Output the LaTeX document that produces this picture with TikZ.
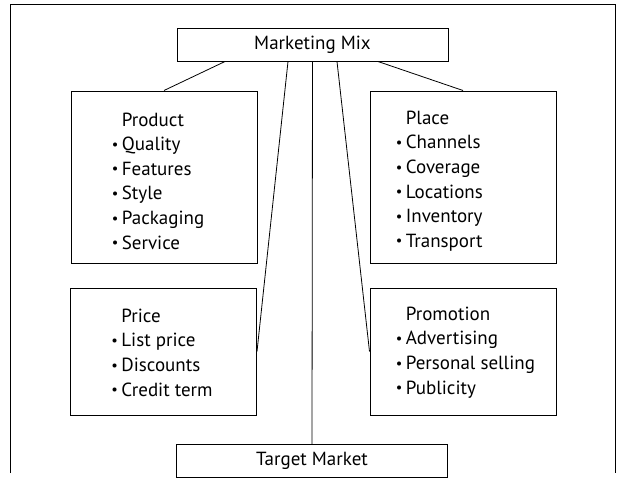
\documentclass[tikz,border=0pt]{standalone}
\usepackage{fontspec}
\setmainfont{PT Sans}

\newcommand{\itembul}{\makebox[10pt][l]{\raisebox{1.4pt}{\fontsize{14.5}{14.5}\selectfont\textbullet}}}

\tikzset{every picture/.style={line width=0.75pt}}
\tikzset{
  mixbox/.style={draw, line width=1pt, minimum width=271pt, minimum height=33pt, inner sep=0pt, font=\fontsize{19}{25}\selectfont},
  catbox/.style={draw, line width=1pt, minimum width=186pt, inner sep=0pt},
  listtext/.style={anchor=west, inner sep=0pt, align=left, font=\fontsize{19}{24.6}\selectfont},
  link/.style={line width=0.8pt}
}

\begin{document}
\begin{tikzpicture}[x=1pt,y=1pt,yscale=-1,xscale=1]
\useasboundingbox (0,0) rectangle (619,485);

% Frame
        \draw [line width=0.9pt]   (10,473) -- (10,4) -- (615,4) -- (615,473) ;

% Text Node
        \node (mix) [mixbox] at (312.5,44.5) {Marketing Mix};
% Text Node
        \node (target) [mixbox] at (312,461) {Target Market};

% Boxes
        \node (product) [catbox, minimum height=172pt] at (164,177) {};
        \node (place) [catbox, minimum height=172pt] at (463,177) {};
        \node (price) [catbox, minimum height=127pt] at (163.5,351.5) {};
        \node (promotion) [catbox, minimum height=127pt] at (463,351.5) {};

% Text Node
        \node (product list) [listtext] at ([xshift=41pt,yshift=4pt]product.west) {\phantom{\itembul}Product\\\itembul Quality\\\itembul Features\\\itembul Style\\\itembul Packaging\\\itembul Service};
% Text Node
        \node (place list) [listtext] at ([xshift=26pt,yshift=4pt]place.west) {\phantom{\itembul}Place\\\itembul Channels\\\itembul Coverage\\\itembul Locations\\\itembul Inventory\\\itembul Transport};
% Text Node
        \node (price list) [listtext] at ([xshift=41pt,yshift=1pt]price.west) {\phantom{\itembul}Price\\\itembul List price\\\itembul Discounts\\\itembul Credit term};
% Text Node
        \node (promotion list) [listtext] at ([xshift=26pt,yshift=1pt]promotion.west) {\phantom{\itembul}Promotion\\\itembul Advertising\\\itembul Personal selling\\\itembul Publicity};

% Connection
        \draw [link]   ([xshift=-87.5pt]mix.south) -- (product.north) ;
% Connection
        \draw [link]   ([xshift=-24.5pt]mix.south) -- (price.east) ;
% Connection
        \draw [link]   (mix.south) -- (target.north) ;
% Connection
        \draw [link]   ([xshift=24.5pt]mix.south) -- (promotion.west) ;
% Connection
        \draw [link]   ([xshift=65.5pt]mix.south) -- (place.north) ;

\end{tikzpicture}
\end{document}
